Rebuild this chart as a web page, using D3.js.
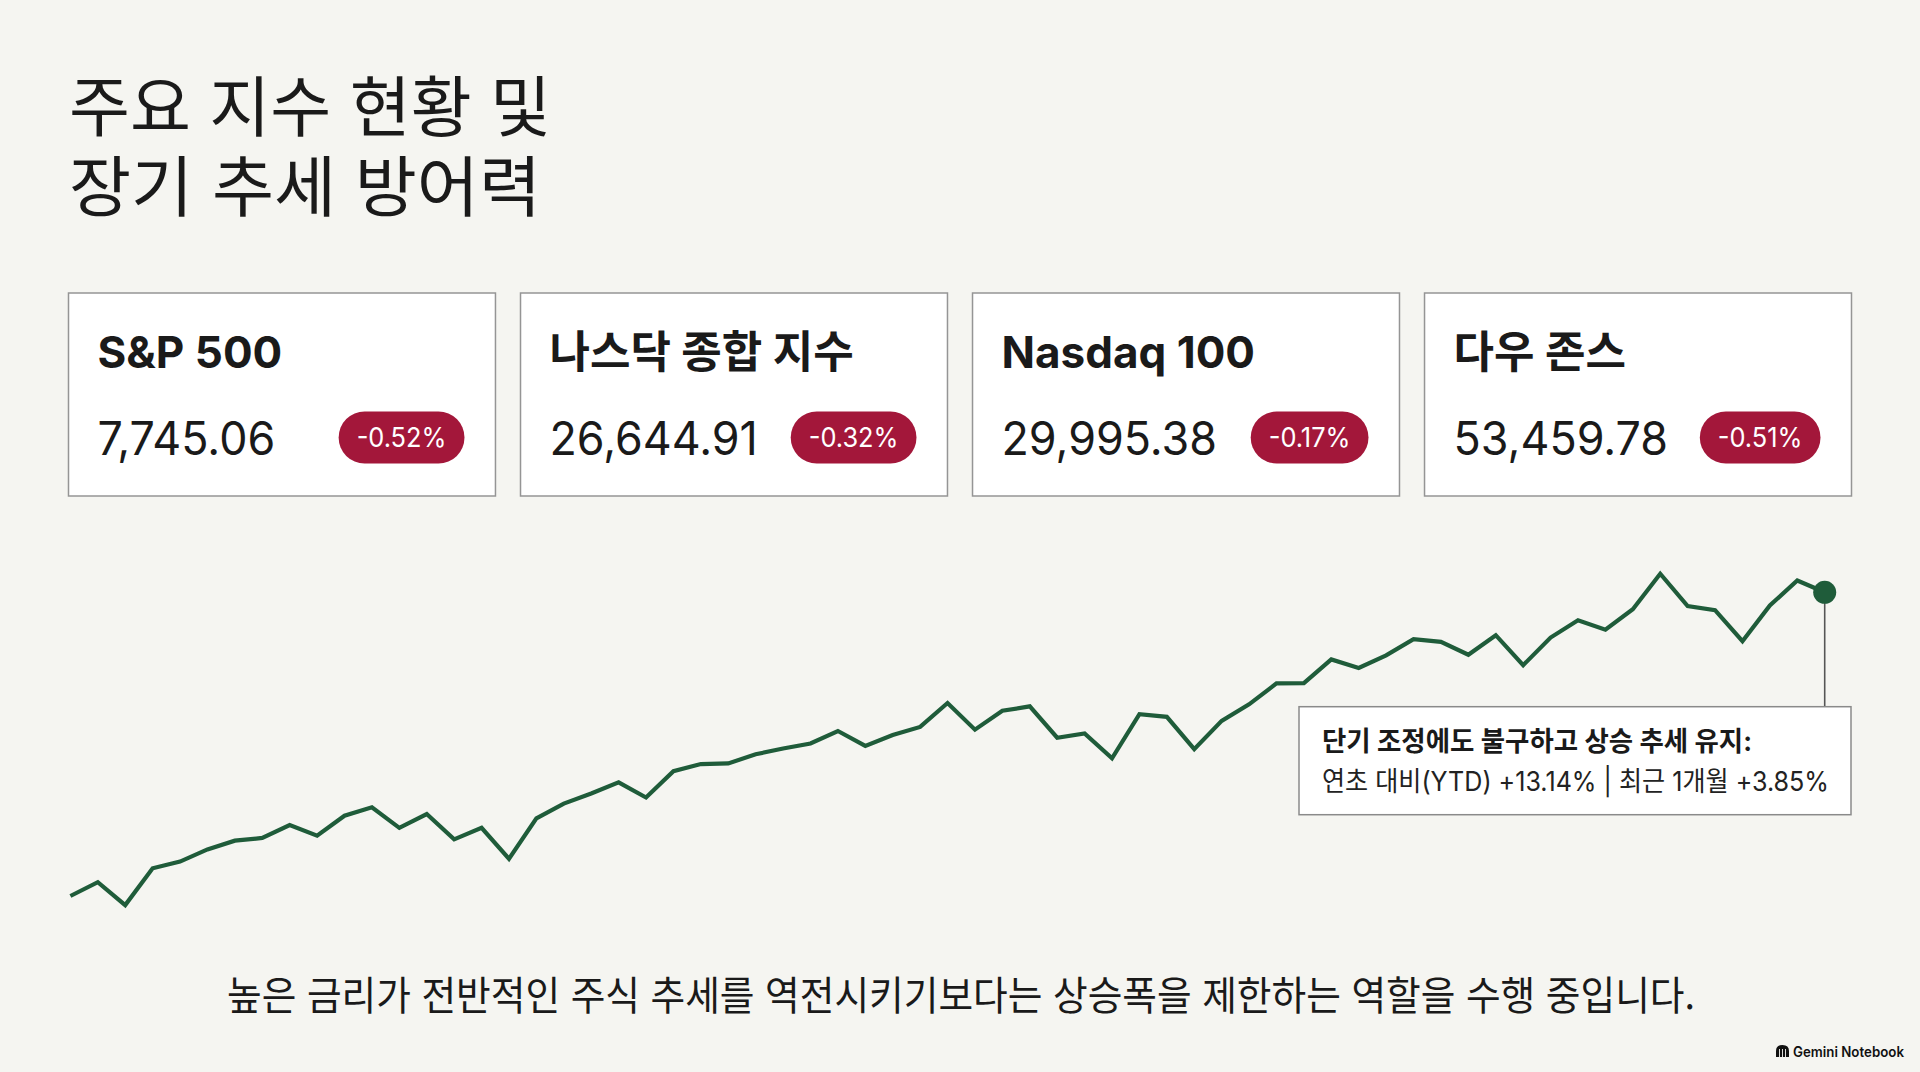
<!DOCTYPE html>
<html lang="ko">
<head>
<meta charset="utf-8">
<script src="https://cdn.jsdelivr.net/npm/d3@7"></script>
<style>
  html, body { margin: 0; padding: 0; background: #f5f5f1; }
  svg { display: block; }
</style>
</head>
<body>
<svg id="chart" width="1920" height="1072"></svg>
<script>
// ---- data ----
var titleLines = ['주요 지수 현황 및', '장기 추세 방어력'];

var indexNames = ['S&P 500', '나스닥 종합 지수', 'Nasdaq 100', '다우 존스'];
var indexValues = [7745.06, 26644.91, 29995.38, 53459.78];
var indexChanges = [-0.52, -0.32, -0.17, -0.51];

// S&P 500 trend (65 sessions)
var trendValues = [
  6845, 6886, 6818, 6927, 6947, 6983, 7009, 7017, 7055, 7024,
  7083, 7108, 7047, 7088, 7013, 7047, 6955, 7075, 7119, 7149,
  7182, 7137, 7215, 7236, 7238, 7265, 7282, 7297, 7334, 7290,
  7322, 7346, 7417, 7338, 7394, 7407, 7314, 7327, 7253, 7384,
  7376, 7280, 7364, 7413, 7475, 7476, 7546, 7521, 7558, 7606,
  7598, 7560, 7618, 7529, 7611, 7662, 7634, 7695, 7800, 7704,
  7692, 7600, 7706, 7780, 7745.06
];

var noteTitle = '단기 조정에도 불구하고 상승 추세 유지:';
var noteBody = '연초 대비(YTD) +13.14% | 최근 1개월 +3.85%';
var footnote = '높은 금리가 전반적인 주식 추세를 역전시키기보다는 상승폭을 제한하는 역할을 수행 중입니다.';

// ---- styles ----
var INK = '#1a1a1a';
var GREEN = '#1f5c3a';
var RED = '#a3173a';
var KR = '"Noto Sans CJK KR", sans-serif';
var MIX = 'Inter, "Noto Sans CJK KR", sans-serif';

var svg = d3.select('#chart');

// squeeze a text element to a given advance width
function fitWidth(sel, w) {
    sel.attr('textLength', w).attr('lengthAdjust', 'spacingAndGlyphs');
}
function squeeze(sel, k) {
    var w = sel.node().getComputedTextLength();
    if (k !== 1) fitWidth(sel, w * k);
}

// ---- title ----
// Liberation first keeps the line box short; hangul falls back to Noto CJK
var titleW = [482, 472];
titleLines.forEach(function(t, i) {
    var el = svg.append('text')
        .attr('x', 69).attr('y', 131 + i * 80)
        .attr('font-family', '"Liberation Sans", "Noto Sans CJK KR", sans-serif')
        .attr('font-size', 66)
        .attr('fill', INK).text(t);
    fitWidth(el, titleW[i]);
});

// ---- cards ----
var cardH = 203, cardY = 293;
var cardX = d3.scaleBand()
    .domain(d3.range(indexNames.length))
    .range([68.5, 1851.5])
    .paddingInner(0.0554);

var fmt = d3.format(',.2f');

var cards = svg.selectAll('g.card')
    .data(indexNames)
    .enter().append('g')
    .attr('class', 'card')
    .attr('transform', function(d, i) { return 'translate(' + cardX(i) + ',' + cardY + ')'; });

cards.append('rect')
    .attr('width', cardX.bandwidth()).attr('height', cardH)
    .attr('fill', '#ffffff').attr('stroke', '#959595').attr('stroke-width', 1.5);

cards.append('text')
    .attr('x', 29).attr('y', 75)
    .attr('font-family', MIX).attr('font-weight', 700).attr('font-size', 44)
    .attr('fill', INK)
    .text(function(d) { return d; });

cards.append('text')
    .attr('x', 29).attr('y', 162)
    .attr('font-family', MIX).attr('font-size', 46)
    .attr('fill', INK)
    .text(function(d, i) { return fmt(indexValues[i]); })
    .each(function() { squeeze(d3.select(this), 0.975); });

cards.each(function(d, i) {
    var g = d3.select(this);
    var bw = cardX.bandwidth();
    var label = g.append('text')
        .attr('font-family', MIX).attr('font-size', 27)
        .attr('fill', '#ffffff').attr('text-anchor', 'middle')
        .text(indexChanges[i].toFixed(2) + '%');
    squeeze(label, 0.94);
    var tw = label.node().getComputedTextLength();
    var pw = tw + 36, ph = 52;
    var cx = bw - 31 - pw / 2, cy = 144.5;
    g.insert('rect', 'text:last-of-type')
        .attr('x', cx - pw / 2).attr('y', cy - ph / 2)
        .attr('width', pw).attr('height', ph)
        .attr('rx', ph / 2).attr('fill', RED);
    label.attr('x', cx).attr('y', cy + 9.5);
});

// ---- trend line ----
var x = d3.scaleLinear().domain([0, trendValues.length - 1]).range([70.4, 1824.7]);
var y = d3.scaleLinear().domain([6845, 7745.06]).range([896, 592.3]);

var line = d3.line()
    .x(function(d, i) { return x(i); })
    .y(function(d) { return y(d); });

svg.append('path')
    .datum(trendValues)
    .attr('d', line)
    .attr('fill', 'none').attr('stroke', GREEN)
    .attr('stroke-width', 4.2).attr('stroke-linejoin', 'miter');

var lastI = trendValues.length - 1;
var lx = x(lastI), ly = y(trendValues[lastI]);

// ---- annotation ----
var boxX = 1299, boxY = 706.7, boxW = 552, boxH = 108;

svg.append('line')
    .attr('x1', lx).attr('y1', ly).attr('x2', lx).attr('y2', boxY)
    .attr('stroke', '#555').attr('stroke-width', 1.6);

svg.append('circle')
    .attr('cx', lx).attr('cy', ly).attr('r', 11.5)
    .attr('fill', GREEN);

svg.append('rect')
    .attr('x', boxX).attr('y', boxY).attr('width', boxW).attr('height', boxH)
    .attr('fill', '#ffffff').attr('stroke', '#8a8a8a').attr('stroke-width', 1.5);

var nt = svg.append('text')
    .attr('x', boxX + 23).attr('y', boxY + 44)
    .attr('font-family', MIX).attr('font-weight', 700).attr('font-size', 27)
    .attr('fill', INK).text(noteTitle);
fitWidth(nt, 430);

var nb = svg.append('text')
    .attr('x', boxX + 23).attr('y', boxY + 84)
    .attr('font-family', MIX).attr('font-size', 27)
    .attr('fill', '#222').text(noteBody);
fitWidth(nb, 507);

// ---- footnote ----
var fw = 1468;
var fn = svg.append('text')
    .attr('x', 961 - fw / 2).attr('y', 1010)
    .attr('font-family', KR).attr('font-size', 40)
    .attr('fill', INK).text(footnote);
fitWidth(fn, fw);

// ---- brand ----
var brand = svg.append('g').attr('transform', 'translate(1776,1045)');
brand.append('path')
    .attr('d', 'M0,12 L0,6 Q0,0 6.5,0 Q13,0 13,6 L13,12 Z')
    .attr('fill', '#111');
brand.selectAll('line.stripe')
    .data([3.5, 6.5, 9.5])
    .enter().append('line')
    .attr('x1', function(d) { return d; }).attr('x2', function(d) { return d; })
    .attr('y1', 4).attr('y2', 12)
    .attr('stroke', '#f5f5f1').attr('stroke-width', 0.9);
var bt = brand.append('text')
    .attr('x', 17).attr('y', 11.5)
    .attr('font-family', 'Inter, sans-serif').attr('font-weight', 600).attr('font-size', 14)
    .attr('fill', '#111').text('Gemini Notebook');
fitWidth(bt, 111);
</script>
</body>
</html>
